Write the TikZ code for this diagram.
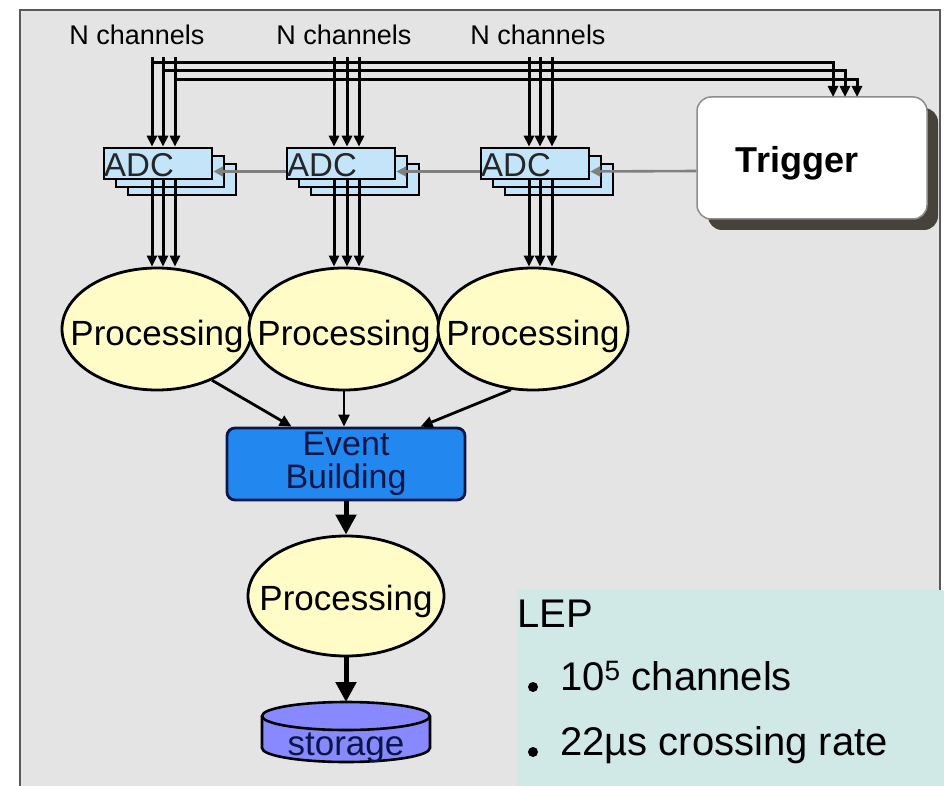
\documentclass[tikz,border=0pt]{standalone}
\usepackage{fontspec}
\setmainfont{Liberation Sans}
\usetikzlibrary{arrows.meta,shapes.geometric,shadows}

\definecolor{panelgray}{RGB}{228,228,228}
\definecolor{adcblue}{RGB}{196,228,250}
\definecolor{procyellow}{RGB}{255,252,200}
\definecolor{evblue}{RGB}{34,136,240}
\definecolor{evtext}{RGB}{10,22,70}
\definecolor{storeblue}{RGB}{136,136,255}
\definecolor{lepbg}{RGB}{208,232,230}
\definecolor{shadowgray}{RGB}{72,66,60}

\newcommand{\proclabel}[1]{\makebox[0pt]{\raisebox{#1}[0pt][0pt]{Processing}}}

\tikzset{
  chanlabel/.style={anchor=base, inner sep=0, font=\fontsize{27}{30}\selectfont},
  chan/.style={line width=3pt, -{Triangle[length=11pt,width=10pt]}},
  adcbox/.style={draw, line width=2.6pt, fill=adcblue, minimum width=108, minimum height=31, inner sep=0},
  adctext/.style={anchor=base west, inner sep=0, text=black!85, font=\fontsize{33}{36}\selectfont},
  trigbox/.style={draw=black!45, line width=1.5pt, fill=white, rounded corners=14pt,
    minimum width=230, minimum height=122,
    drop shadow={shadow xshift=11pt, shadow yshift=-11pt, fill=shadowgray, opacity=1}},
  trigtext/.style={anchor=base, inner sep=0, font=\fontsize{36}{40}\selectfont\bfseries},
  trigarrow/.style={draw=black!50, line width=2.6pt, -{Triangle[length=10pt,width=10pt]}},
  proc/.style={ellipse, draw, line width=2.8pt, fill=procyellow, inner sep=0,
    minimum width=190, minimum height=122, font=\fontsize{35}{38}\selectfont},
  procarrow/.style={line width=2.8pt, -{Triangle[length=12pt,width=11pt]}},
  bigarrow/.style={line width=5pt, -{Triangle[length=20pt,width=20pt]}},
  evbox/.style={draw=evtext, line width=2.8pt, fill=evblue, rounded corners=8pt, align=center,
    minimum width=238, minimum height=72, inner sep=0, text=evtext, font=\fontsize{34}{33}\selectfont},
  cyl/.style={draw, line width=2.6pt, fill=storeblue},
  leptext/.style={anchor=base west, inner sep=0, font=\fontsize{40}{44}\selectfont}
}

\begin{document}
\begin{tikzpicture}[x=1pt,y=-1pt]
      \useasboundingbox (0,0) rectangle (944,786);
      \clip (0,0) rectangle (944,786);
      \draw[line width=1.8pt, draw=black!65, fill=panelgray] (20,10) rectangle (940,800);

      \node[chanlabel] (lab1) at (137,45) {N channels};
      \node[chanlabel] (lab2) at (344,45) {N channels};
      \node[chanlabel] (lab3) at (538,45) {N channels};

      \coordinate (c11) at (152,57);
      \coordinate (c12) at (163,57);
      \coordinate (c13) at (175,57);
      \coordinate (c21) at (334,57);
      \coordinate (c22) at (347,57);
      \coordinate (c23) at (359,57);
      \coordinate (c31) at (529,57);
      \coordinate (c32) at (540,57);
      \coordinate (c33) at (552,57);

      \node[trigbox] (trig) at (812,158) {};
      \node[trigtext] (trig-t) at (797,173) {Trigger};
      \coordinate (t1) at (833,97);
      \coordinate (t2) at (845,97);
      \coordinate (t3) at (857,97);

      \node[adcbox] (adc1c) at (182,179.5) {};
      \node[adcbox] (adc1b) at (170,171.5) {};
      \node[adcbox] (adc1) at (158,163.5) {};
      \node[adcbox] (adc2c) at (365,179.5) {};
      \node[adcbox] (adc2b) at (353,171.5) {};
      \node[adcbox] (adc2) at (341,163.5) {};
      \node[adcbox] (adc3c) at (559,179.5) {};
      \node[adcbox] (adc3b) at (547,171.5) {};
      \node[adcbox] (adc3) at (535,163.5) {};

      \begin{scope}[chan]
        \draw ([yshift=-6pt]c11) -| (t1);
        \draw ([yshift=-14pt]c12) -| (t2);
        \draw ([yshift=-23pt]c13) -| (t3);
        \draw (c11) -- (c11 |- adc1.north);
        \draw (c12) -- (c12 |- adc1.north);
        \draw (c13) -- (c13 |- adc1.north);
        \draw (c21) -- (c21 |- adc2.north);
        \draw (c22) -- (c22 |- adc2.north);
        \draw (c23) -- (c23 |- adc2.north);
        \draw (c31) -- (c31 |- adc3.north);
        \draw (c32) -- (c32 |- adc3.north);
        \draw (c33) -- (c33 |- adc3.north);
      \end{scope}

      \node[adctext] (adc1-t) at (104,177) {ADC};
      \node[adctext] (adc2-t) at (287,177) {ADC};
      \node[adctext] (adc3-t) at (481,177) {ADC};

      \draw[trigarrow] ([yshift=-13pt]trig.west) -- ([yshift=-8pt]adc3.east);
      \draw[trigarrow] ([yshift=-8pt]adc3.west) -- ([yshift=-8pt]adc2.east);
      \draw[trigarrow] ([yshift=-8pt]adc2.west) -- ([yshift=-8pt]adc1.east);

      \node[proc] (p1) at (157,329) {\proclabel{-16pt}};
      \node[proc] (p2) at (344,329) {\proclabel{-16pt}};
      \node[proc] (p3) at (533,329) {\proclabel{-16pt}};

      \begin{scope}[chan]
        \draw (c11 |- adc1.south) -- (c11 |- p1.north);
        \draw (c12 |- adc1.south) -- (c12 |- p1.north);
        \draw (c13 |- adc1.south) -- (c13 |- p1.north);
        \draw (c21 |- adc2.south) -- (c21 |- p2.north);
        \draw (c22 |- adc2.south) -- (c22 |- p2.north);
        \draw (c23 |- adc2.south) -- (c23 |- p2.north);
        \draw (c31 |- adc3.south) -- (c31 |- p3.north);
        \draw (c32 |- adc3.south) -- (c32 |- p3.north);
        \draw (c33 |- adc3.south) -- (c33 |- p3.north);
      \end{scope}

      \node[evbox] (eb) at (346,464) {Event\\Building};

      \draw[procarrow] (p1.-43) -- ([xshift=66pt]eb.north west);
      \draw[procarrow] (p2.south) -- (p2.south |- eb.north);
      \draw[procarrow] (p3.-110) -- ([xshift=195pt]eb.north west);

      \node[proc, minimum width=196, minimum height=120] (p4) at (346,596) {\proclabel{-14pt}};
      \draw[bigarrow] (eb.south) -- (p4.north);

      \draw[cyl] (262,716) -- (262,748)
        arc[start angle=180, end angle=360, x radius=84pt, y radius=14pt] -- (430,716)
        arc[start angle=0, end angle=180, x radius=84pt, y radius=14pt] -- cycle;
      \draw[line width=2.6pt] (262,716) arc[start angle=180, end angle=360, x radius=84pt, y radius=14pt];
      \node[anchor=base, inner sep=0, text=evtext, font=\fontsize{35}{38}\selectfont] (store) at (346,755) {storage};
      \coordinate (storetop) at (346,702);
      \draw[bigarrow] (p4.south) -- (storetop);

      \node[fill=lepbg, anchor=north west, inner sep=0, minimum width=440, minimum height=210] (lep) at (517,590) {};
      \node[leptext] (lep-t) at (517,627) {LEP};
      \fill (533,687) circle (5pt);
      \fill (533,752) circle (5pt);
      \node[leptext] (lep-a) at (560,690) {10\textsuperscript{5} channels};
      \node[leptext] (lep-b) at (560,755) {22µs crossing rate};
    \end{tikzpicture}
\end{document}
